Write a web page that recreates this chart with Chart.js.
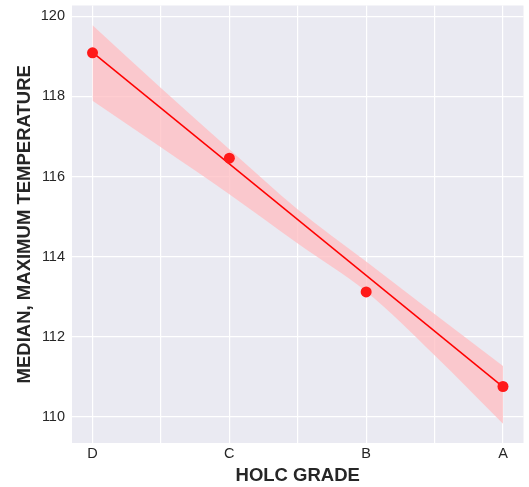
<!DOCTYPE html>
<html>
<head>
<meta charset="utf-8">
<script src="https://cdn.jsdelivr.net/npm/chart.js@4"></script>
<style>
  body { margin: 0; background: #fff; }
  canvas { display: block; }
</style>
</head>
<body>
<canvas id="tempChart" width="529" height="487"></canvas>
<script>
// data
const grades = ['D', 'C', 'B', 'A'];
const gradePos = [0, 1, 2, 3];
const medianTemp = [119.09, 116.46, 113.12, 110.76];

// fitted line (ends) and its confidence band
const fitX = [0, 3];
const fitY = [119.1, 110.75];
const bandX = [0, 0.5, 1, 1.5, 2, 2.5, 3];
const bandUpper = [119.78, 118.21, 116.68, 115.18, 113.88, 112.57, 111.27];
const bandLower = [117.89, 116.73, 115.56, 114.33, 113.13, 111.54, 109.83];

// ticks
const xTicks = [0, 0.5, 1, 1.5, 2, 2.5, 3];
const yTicks = [110, 112, 114, 116, 118, 120];

function pts(xs, ys) {
    return xs.map((x, i) => ({ x: x, y: ys[i] }));
}

// grey plot background like seaborn darkgrid
const plotBg = {
    id: 'plotBg',
    beforeDraw(chart) {
        const a = chart.chartArea;
        const c = chart.ctx;
        c.save();
        c.fillStyle = '#EAEAF2';
        c.fillRect(a.left, a.top, a.right - a.left, a.bottom - a.top);
        c.restore();
    }
};

const tickFont = { family: 'Liberation Sans, Arial, sans-serif', size: 14.5 };
const titleFont = { family: 'Liberation Sans, Arial, sans-serif', size: 18.5, weight: 'bold' };

let ctx = document.getElementById('tempChart').getContext('2d');
let tempChart = new Chart(ctx, {
    type: 'scatter',
    data: {
        datasets: [
            {
                data: pts(gradePos, medianTemp),
                backgroundColor: 'rgb(255,25,25)',
                borderWidth: 0,
                pointRadius: 5.5,
                order: 0
            },
            {
                data: pts(fitX, fitY),
                showLine: true,
                borderColor: 'rgb(255,0,0)',
                borderWidth: 1.5,
                pointRadius: 0,
                order: 1
            },
            {
                data: pts(bandX, bandUpper),
                showLine: true,
                cubicInterpolationMode: 'monotone',
                borderWidth: 0,
                pointRadius: 0,
                fill: '+1',
                backgroundColor: 'rgba(255,189,193,0.76)',
                order: 2
            },
            {
                data: pts(bandX, bandLower),
                showLine: true,
                cubicInterpolationMode: 'monotone',
                borderWidth: 0,
                pointRadius: 0,
                order: 3
            }
        ]
    },
    options: {
        responsive: false,
        animation: false,
        devicePixelRatio: 1,
        layout: { padding: { top: 4, right: 5, left: 0, bottom: 0 } },
        plugins: {
            legend: { display: false },
            tooltip: { enabled: false }
        },
        scales: {
            x: {
                type: 'linear',
                min: -0.15,
                max: 3.15,
                afterBuildTicks: s => { s.ticks = xTicks.map(v => ({ value: v })); },
                afterFit: s => { s.height = 44; s.paddingLeft = 0; s.paddingRight = 0; },
                grid: { color: '#ffffff', lineWidth: 1.2, drawTicks: false },
                border: { display: false },
                ticks: {
                    padding: 2,
                    color: '#262626',
                    font: tickFont,
                    autoSkip: false,
                    maxRotation: 0,
                    callback: v => Number.isInteger(v) ? grades[v] : ''
                },
                title: {
                    display: true,
                    text: 'HOLC GRADE',
                    color: '#262626',
                    font: titleFont,
                    padding: { top: 0, bottom: 0 }
                }
            },
            y: {
                min: 109.35,
                max: 120.27,
                afterBuildTicks: s => { s.ticks = yTicks.map(v => ({ value: v })); },
                afterFit: s => { s.width = 72; s.paddingTop = 0; s.paddingBottom = 0; },
                grid: { color: '#ffffff', lineWidth: 1.2, drawTicks: false },
                border: { display: false },
                ticks: {
                    padding: 7,
                    color: '#262626',
                    font: tickFont
                },
                title: {
                    display: true,
                    text: 'MEDIAN, MAXIMUM TEMPERATURE',
                    color: '#262626',
                    font: titleFont,
                    padding: { top: 14, bottom: 0 }
                }
            }
        }
    },
    plugins: [plotBg]
});
</script>
</body>
</html>
